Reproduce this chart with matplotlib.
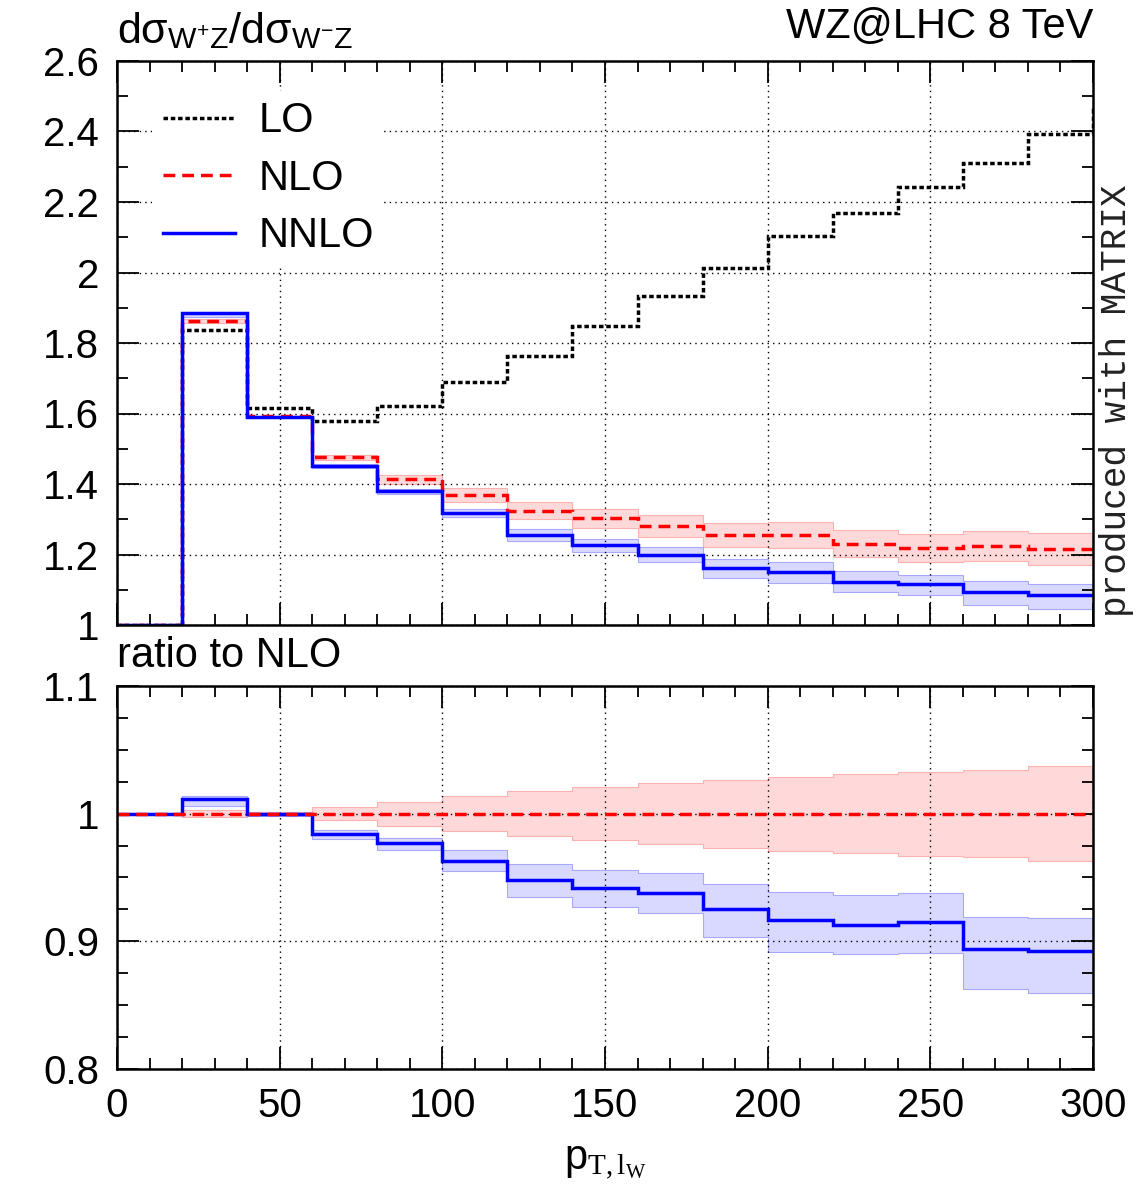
import numpy as np
import matplotlib.pyplot as plt
from matplotlib.lines import Line2D
from matplotlib.ticker import MultipleLocator, FormatStrFormatter

plt.rcParams['font.family'] = ['Liberation Sans', 'DejaVu Sans']
plt.rcParams['mathtext.fontset'] = 'custom'
plt.rcParams['mathtext.rm'] = 'Liberation Serif'
plt.rcParams['mathtext.sf'] = 'Liberation Sans'
plt.rcParams['mathtext.it'] = 'Liberation Serif:italic'

# bins in p_T (GeV)
edges = np.arange(0, 301, 20)

# upper panel: dsigma(W+Z)/dsigma(W-Z)
lo = [1.0, 1.837, 1.616, 1.58, 1.62, 1.69, 1.764, 1.848, 1.933, 2.014, 2.104, 2.168, 2.243, 2.311, 2.392]
lo_next = 2.46  # first bin past 300, only its edge is visible
nlo = [1.0, 1.863, 1.592, 1.476, 1.413, 1.369, 1.324, 1.303, 1.28, 1.256, 1.256, 1.23, 1.218, 1.224, 1.215]
nnlo = [1.0, 1.884, 1.591, 1.452, 1.380, 1.318, 1.255, 1.227, 1.200, 1.162, 1.151, 1.123, 1.115, 1.094, 1.084]

# scale bands as read in the ratio panel
nlo_band_hi = [1.0, 1.003, 1.001, 1.005, 1.0095, 1.0137, 1.0178, 1.021, 1.024, 1.0266, 1.029, 1.031, 1.033, 1.034, 1.037]
nlo_band_lo = [1.0, 0.997, 0.999, 0.995, 0.9905, 0.9863, 0.9822, 0.979, 0.976, 0.9734, 0.971, 0.969, 0.967, 0.966, 0.963]
nnlo_band_hi = [1.0, 1.0136, 1.0005, 0.987, 0.981, 0.9718, 0.9603, 0.9557, 0.9534, 0.9448, 0.9385, 0.9365, 0.9378, 0.919, 0.918]
nnlo_band_lo = [1.0, 1.006, 0.9985, 0.980, 0.9713, 0.9548, 0.9347, 0.927, 0.9219, 0.9031, 0.892, 0.890, 0.891, 0.8628, 0.8596]

nlo = np.array(nlo)
nnlo = np.array(nnlo)
ratio_nlo = nlo / nlo
ratio_nnlo = nnlo / nlo

red = '#ff0000'
blue = '#0000ff'
red_fill = '#ffd9d9'
blue_fill = '#d9d9ff'
red_edge = '#ffb0b0'
blue_edge = '#a8a8ff'
ls_lo = (0, (1.3, 0.8))
ls_nlo = (0, (3.4, 2.0))
FS = 30
TFS = 29

fig = plt.figure(figsize=(11.4, 12), dpi=100)
ax1 = fig.add_axes([117 / 1140, 1 - 625 / 1200, 976 / 1140, 564 / 1200])
ax2 = fig.add_axes([117 / 1140, 1 - 1069 / 1200, 976 / 1140, 383 / 1200])


def band(ax, hi, low, fill, edge):
    ax.stairs(hi, edges, baseline=low, fill=True, color=fill, lw=0, zorder=1)
    ax.stairs(hi, edges, baseline=None, color=edge, lw=0.8, zorder=1.5)
    ax.stairs(low, edges, baseline=None, color=edge, lw=0.8, zorder=1.5)


# upper panel
band(ax1, nlo * np.array(nlo_band_hi), nlo * np.array(nlo_band_lo), red_fill, red_edge)
band(ax1, nlo * np.array(nnlo_band_hi), nlo * np.array(nnlo_band_lo), blue_fill, blue_edge)
ax1.stairs(lo + [lo_next], np.append(edges, 320), baseline=None, color='black', lw=2.5,
           linestyle=ls_lo, zorder=3)
ax1.stairs(nlo, edges, baseline=None, color=red, lw=2.5, linestyle=ls_nlo, zorder=3)
ax1.stairs(nnlo, edges, baseline=None, color=blue, lw=2.5, zorder=4)

# lower panel
band(ax2, nlo_band_hi, nlo_band_lo, red_fill, red_edge)
band(ax2, nnlo_band_hi, nnlo_band_lo, blue_fill, blue_edge)
ax2.stairs(ratio_nnlo, edges, baseline=None, color=blue, lw=2.5, zorder=3)
ax2.stairs(ratio_nlo, edges, baseline=None, color=red, lw=2.5, linestyle=ls_nlo, zorder=4)

for ax in (ax1, ax2):
    ax.set_xlim(0, 300)
    ax.xaxis.set_major_locator(MultipleLocator(50))
    ax.xaxis.set_minor_locator(MultipleLocator(10))
    ax.yaxis.set_major_formatter(FormatStrFormatter('%g'))
    ax.tick_params(which='both', direction='in', top=True, right=True, width=1.3, labelsize=TFS)
    ax.tick_params(which='major', length=16, pad=13)
    ax.tick_params(which='minor', length=8)
    ax.grid(True, which='major', color='black', linestyle=(0, (1, 3)), lw=1)
    for s in ax.spines.values():
        s.set_linewidth(1.8)
        s.set_zorder(6)

ax1.set_ylim(1, 2.6)
ax1.yaxis.set_major_locator(MultipleLocator(0.2))
ax1.yaxis.set_minor_locator(MultipleLocator(0.1))
ax1.tick_params(labelbottom=False)

ax2.set_ylim(0.8, 1.1)
ax2.yaxis.set_major_locator(MultipleLocator(0.1))
ax2.yaxis.set_minor_locator(MultipleLocator(0.025))
ax2.set_xlabel(r'p$_{\mathrm{T,l_W}}$', fontsize=FS, labelpad=12)

handles = [Line2D([], [], color='black', lw=2.5, linestyle=ls_lo),
           Line2D([], [], color=red, lw=2.5, linestyle=ls_nlo),
           Line2D([], [], color=blue, lw=2.5)]
ax1.legend(handles, ['LO', 'NLO', 'NNLO'], loc='upper left', bbox_to_anchor=(0.036, 0.947),
           borderaxespad=0, fontsize=FS, frameon=True, facecolor='white', edgecolor='none',
           framealpha=1, fancybox=False, handlelength=1.75, handletextpad=0.55,
           labelspacing=0.42, borderpad=0.25)

fig.text(117 / 1140, 1 - 43 / 1200, r'dσ$_{\mathsf{W^{+}Z}}$/dσ$_{\mathsf{W^{-}Z}}$',
         ha='left', va='baseline', fontsize=31)
fig.text(1093 / 1140, 1 - 38 / 1200, 'WZ@LHC 8 TeV', ha='right', va='baseline', fontsize=FS)
fig.text(117 / 1140, 1 - 667 / 1200, 'ratio to NLO', ha='left', va='baseline', fontsize=FS)
fig.text(1116 / 1140, 1 - 401 / 1200, 'produced with MATRIX', rotation=90, ha='center',
         va='center', fontsize=26, family='Liberation Mono', color='#222222')

fig.savefig('out.png', dpi=100)
